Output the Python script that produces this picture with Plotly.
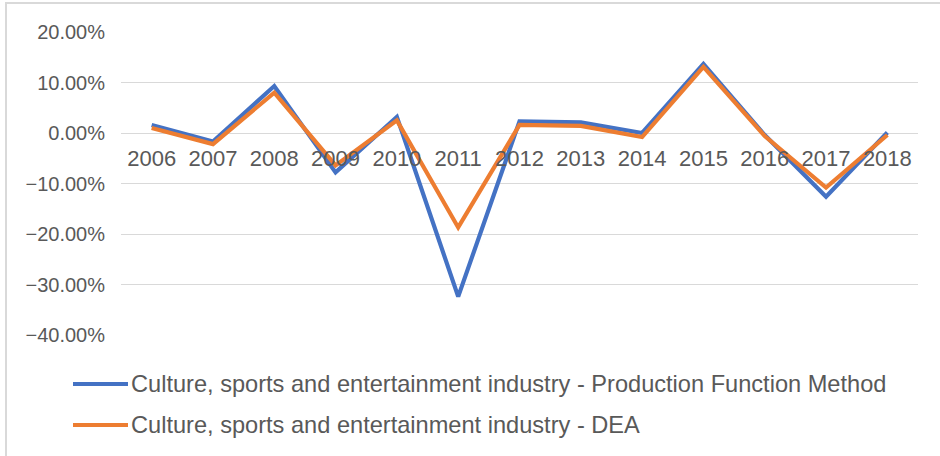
import plotly.graph_objects as go

# Annual growth rates, culture, sports and entertainment industry
years = ["2006", "2007", "2008", "2009", "2010", "2011", "2012",
         "2013", "2014", "2015", "2016", "2017", "2018"]
production_function = [0.016, -0.017, 0.093, -0.078, 0.032, -0.324, 0.023,
                       0.021, 0.000, 0.137, -0.004, -0.126, 0.001]
dea = [0.010, -0.022, 0.080, -0.064, 0.025, -0.187, 0.016,
       0.014, -0.008, 0.131, -0.006, -0.108, -0.004]

series_names = [
    "Culture, sports and entertainment industry - Production Function Method",
    "Culture, sports and entertainment industry - DEA",
]
colors = ["#4472C4", "#ED7D31"]
y_ticks = [0.2, 0.1, 0.0, -0.1, -0.2, -0.3, -0.4]

W, H = 940, 456
L, R, T, B = 121, 22, 32, 121
FONT = "Liberation Sans"
GREY = "#595959"

fig = go.Figure()
for name, vals, col in zip(series_names, [production_function, dea], colors):
    fig.add_trace(go.Scatter(
        x=years, y=vals, name=name, mode="lines",
        line=dict(color=col, width=4.2), showlegend=False,
    ))

ymin, ymax = -0.4, 0.2
zero_pos = (0 - ymin) / (ymax - ymin)

fig.update_layout(
    width=W, height=H,
    margin=dict(l=L, r=R, t=T, b=B),
    paper_bgcolor="white", plot_bgcolor="white",
    font=dict(family=FONT, color=GREY),
    xaxis=dict(
        type="category", range=[-0.5, len(years) - 0.5],
        anchor="free", position=zero_pos,
        showgrid=False, showline=False, zeroline=False, ticks="",
        tickfont=dict(size=22, color=GREY, family=FONT),
        ticklabelstandoff=10,
    ),
    yaxis=dict(
        range=[ymin, ymax], tickvals=y_ticks, tickformat=".2%",
        showgrid=True, gridcolor="#D9D9D9", gridwidth=1.2,
        zeroline=False, showline=False, ticks="",
        tickfont=dict(size=20, color=GREY, family=FONT),
        ticklabelstandoff=15,
    ),
)

# Outer chart frame
fig.add_shape(type="rect", xref="paper", yref="paper",
              x0=(6 - L) / (W - L - R), x1=(960 - L) / (W - L - R),
              y0=(H - B - 470) / (H - T - B), y1=(H - B - 3) / (H - T - B),
              line=dict(color="#D9D9D9", width=2), layer="below")

# Legend drawn below the plot
pw, ph = W - L - R, H - T - B
def px(x):
    return (x - L) / pw
def py(y):
    return (H - B - y) / ph

for i, (name, col) in enumerate(zip(series_names, colors)):
    yy = 384 + 41 * i
    fig.add_shape(type="line", xref="paper", yref="paper",
                  x0=px(73), x1=px(128), y0=py(yy), y1=py(yy),
                  line=dict(color=col, width=4))
    fig.add_annotation(xref="paper", yref="paper", x=px(129), y=py(yy),
                       text=name, showarrow=False, xanchor="left",
                       yanchor="middle",
                       font=dict(size=23.6, color=GREY, family=FONT))

fig.write_html("out.html")
